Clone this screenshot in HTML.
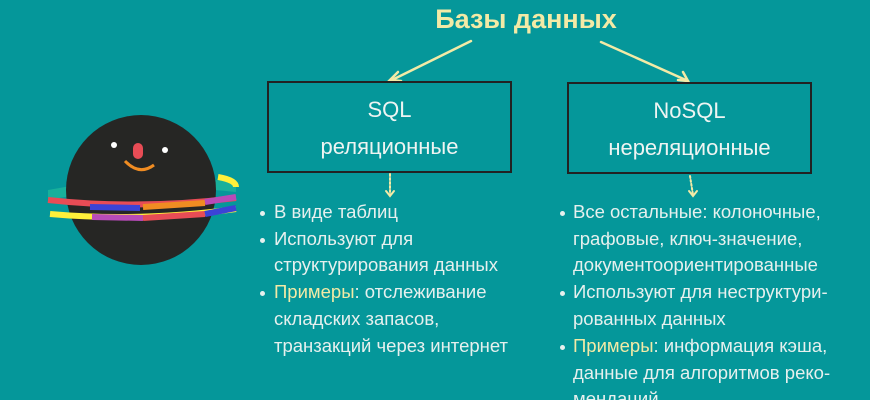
<!DOCTYPE html>
<html><head><meta charset="utf-8"><style>
html,body{margin:0;width:870px;height:400px;overflow:hidden;}
body{background:#05979a;position:relative;font-family:"Liberation Sans","DejaVu Sans",sans-serif;}
.t{position:absolute;color:#e6f0ee;font-size:18.5px;white-space:nowrap;line-height:20px}
.y{color:#f3eaa6}
.box{position:absolute;border:2px solid #222;box-sizing:border-box;color:#eef4f2;text-align:center;font-size:22px;line-height:37px;padding-top:8px}
.b{position:absolute;width:5px;height:5px;border-radius:50%;background:#e6f0ee}
</style></head><body>
<div style="position:absolute;left:0;width:1052px;top:4px;text-align:center;font-size:27px;font-weight:bold;color:#f3eaa6">Базы данных</div>
<svg width="870" height="400" style="position:absolute;left:0;top:0">
<g stroke="#f3eaa6" stroke-width="2.5" fill="none" stroke-linecap="round">
<line x1="471" y1="41" x2="392" y2="80"/><polyline points="398,72 390,80 401,81"/>
<line x1="601" y1="42" x2="688" y2="81"/><polyline points="678,80 688,81 683,72"/>
<line x1="390" y1="174" x2="390" y2="195" stroke-dasharray="2 2" stroke-width="2"/>
<polyline points="386,191 390,196 394,191" stroke-width="2"/>
<line x1="690" y1="176" x2="693" y2="195" stroke-dasharray="2 2" stroke-width="2"/>
<polyline points="689,191 693,196 697,191" stroke-width="2"/>
</g>
<g>
<path d="M48,190 Q140,172 236,182 L236,192 Q140,182 48,200Z" fill="#18b09b"/>
<circle cx="141" cy="190" r="75" fill="#262624"/>
<path d="M48,200 Q140,210 236,198" stroke="#e84c55" stroke-width="6" fill="none"/>
<path d="M90,207 L140,208" stroke="#3b43d6" stroke-width="6"/>
<path d="M143,207 L205,203" stroke="#f08c22" stroke-width="6"/>
<path d="M205,202 L236,197" stroke="#b84bb8" stroke-width="6"/>
<path d="M50,214 Q140,222 236,209" stroke="#fff03a" stroke-width="6" fill="none"/>
<path d="M92,217 L143,218" stroke="#b84bb8" stroke-width="6"/>
<path d="M143,218 L205,214" stroke="#e84c55" stroke-width="6"/>
<path d="M205,214 L236,208" stroke="#3b43d6" stroke-width="6"/>
<path d="M218,177 Q236,180 236,187" stroke="#fff03a" stroke-width="6" fill="none"/>
<circle cx="114" cy="145" r="3" fill="#fff"/><circle cx="165" cy="150" r="3" fill="#fff"/>
<rect x="133" y="143" width="10" height="16" rx="5" fill="#e84c55"/>
<path d="M125,161 Q139,176 154,165" stroke="#f08c22" stroke-width="3" fill="none"/>
</g>
</svg>
<div class="box" style="left:267px;top:81px;width:245px;height:92px">SQL<br>реляционные</div>
<div class="box" style="left:567px;top:82px;width:245px;height:92px">NoSQL<br>нереляционные</div>

<div class="b" style="left:260px;top:211px"></div>
<div class="b" style="left:260px;top:238px"></div>
<div class="b" style="left:260px;top:291px"></div>
<div class="t" style="left:274px;top:202px">В виде таблиц</div>
<div class="t" style="left:274px;top:229px">Используют для</div>
<div class="t" style="left:274px;top:255px">структурирования данных</div>
<div class="t" style="left:274px;top:282px"><span class="y">Примеры</span>: отслеживание</div>
<div class="t" style="left:274px;top:309px">складских запасов,</div>
<div class="t" style="left:274px;top:336px">транзакций через интернет</div>

<div class="b" style="left:560px;top:211px"></div>
<div class="b" style="left:560px;top:291px"></div>
<div class="b" style="left:560px;top:345px"></div>
<div class="t" style="left:573px;top:202px">Все остальные: колоночные,</div>
<div class="t" style="left:573px;top:229px">графовые, ключ-значение,</div>
<div class="t" style="left:573px;top:255px">документоориентированные</div>
<div class="t" style="left:573px;top:282px">Используют для неструктури-</div>
<div class="t" style="left:573px;top:309px">рованных данных</div>
<div class="t" style="left:573px;top:336px"><span class="y">Примеры</span>: информация кэша,</div>
<div class="t" style="left:573px;top:363px">данные для алгоритмов реко-</div>
<div class="t" style="left:573px;top:389px">мендаций</div>
</body></html>
